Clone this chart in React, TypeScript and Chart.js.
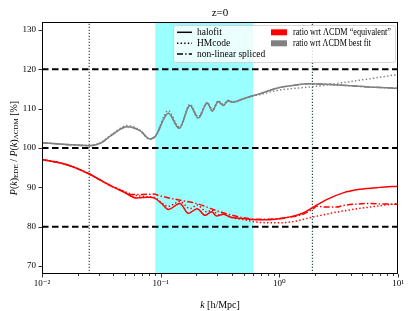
import React, { useEffect, useRef } from 'react';
import { Chart, registerables } from 'chart.js';
Chart.register(...registerables);

const FONT = "'Liberation Serif', 'DejaVu Serif', serif";

const kMin = 0.01;
const kMax = 10;
const yMin = 68;
const yMax = 132;
const yTicks = [70, 80, 90, 100, 110, 120, 130];
const refLevels = [80, 100, 120];
const vLines = [0.025, 1.9];
const bandRange = [0.09, 0.6];
const titleText = 'z=0';
const lineLegend = ['halofit', 'HMcode', 'non-linear spliced'];
const fillLegend = ['ratio wrt \u039BCDM \u201Cequivalent\u201D', 'ratio wrt \u039BCDM best fit'];

// red: ratio wrt LCDM "equivalent"
const redHalofitK = [0.01, 0.016, 0.025, 0.0374, 0.0484, 0.063, 0.081, 0.0895, 0.102, 0.116, 0.1454, 0.1708, 0.2034, 0.2361, 0.269, 0.2964, 0.3369, 0.3835, 0.4966, 0.644, 0.8, 1.012, 1.31, 1.59, 1.93, 2.5, 3.45, 4.78, 7.04, 10];
const redHalofitV = [97.1, 95.8, 93.4, 90.5, 88.9, 87.3, 87.5, 87.2, 85.9, 84.4, 85.9, 83.4, 84.6, 82.9, 83.8, 82.7, 83.2, 82.5, 82.1, 81.8, 81.8, 82.1, 82.7, 83.5, 85.0, 86.9, 88.6, 89.5, 90.0, 90.3];

const redHMcodeK = [0.01, 0.016, 0.025, 0.0374, 0.0484, 0.055, 0.067, 0.081, 0.0895, 0.0987, 0.116, 0.1454, 0.1765, 0.2034, 0.2441, 0.27, 0.31, 0.34, 0.4, 0.5, 0.69, 1.0, 1.31, 1.93, 3.45, 5.8, 10];
const redHMcodeV = [97.1, 95.8, 93.4, 90.5, 89.1, 88.4, 87.8, 87.6, 87.4, 86.4, 85.2, 86.4, 84.6, 85.5, 83.8, 84.2, 83.0, 83.2, 82.3, 81.8, 81.1, 81.0, 81.3, 82.5, 84.0, 85.0, 85.9];

const redSplicedK = [0.01, 0.016, 0.025, 0.0374, 0.0484, 0.055, 0.07, 0.0867, 0.1, 0.1364, 0.2011, 0.316, 0.4966, 0.644, 0.95, 1.31, 1.59, 1.93, 2.06, 2.5, 3.04, 3.45, 4.19, 5.8, 7.04, 10];
const redSplicedV = [97.1, 95.8, 93.4, 90.5, 89.0, 88.2, 88.2, 88.3, 87.8, 86.9, 85.9, 83.8, 82.3, 81.9, 82.0, 82.6, 83.2, 84.6, 85.2, 85.0, 85.0, 85.4, 85.7, 85.9, 85.8, 85.7];

// gray: ratio wrt LCDM best fit
const grayK = [0.01, 0.016, 0.025, 0.031, 0.04, 0.052, 0.067, 0.081, 0.09, 0.116, 0.1435, 0.1765, 0.2074, 0.247, 0.272, 0.306, 0.337, 0.371, 0.404, 0.5, 0.57, 0.69, 0.95, 1.3, 1.8, 2.5, 4.0, 6.5, 10];
const grayHalofitV = [101.35, 100.9, 100.6, 101.2, 103.6, 105.4, 104.4, 102.3, 102.9, 108.8, 105.0, 110.8, 107.6, 111.4, 109.4, 111.8, 110.8, 112.0, 111.6, 112.5, 113.1, 113.8, 115.2, 115.9, 116.3, 116.2, 115.8, 115.4, 115.2];
const grayHMcodeV = [101.35, 100.9, 100.6, 101.3, 103.8, 105.7, 104.5, 102.2, 103.0, 109.5, 105.3, 111.1, 108.0, 111.5, 109.8, 111.9, 111.1, 112.1, 111.8, 112.5, 113.0, 113.6, 114.6, 115.1, 115.5, 116.0, 116.9, 117.8, 118.7];
const graySplicedV = [101.35, 100.9, 100.6, 101.2, 103.6, 105.4, 104.4, 102.3, 102.9, 108.8, 105.0, 110.8, 107.6, 111.4, 109.4, 111.8, 110.8, 112.0, 111.6, 112.5, 113.1, 113.8, 115.2, 115.9, 116.3, 116.2, 115.8, 115.4, 115.2];

const RED = '#ff0000';
const GRAY = '#808080';
const DOT = [1.4, 2.2];
const DASHDOT = [6, 2.2, 1.4, 2.2];

const pts = (k: number[], v: number[]) => k.map((x, i) => ({ x, y: v[i] }));

const SUP: Record<string, string> = { '-': '\u207B', '0': '\u2070', '1': '\u00B9', '2': '\u00B2', '3': '\u00B3' };
const supStr = (n: number) => String(n).split('').map((c) => SUP[c] || c).join('');

const decorPlugin = {
  id: 'decor',
  beforeDatasetsDraw(chart: any) {
    const { ctx, chartArea: ca, scales } = chart;
    const xs = scales.x;
    const x0 = xs.getPixelForValue(bandRange[0]);
    const x1 = xs.getPixelForValue(bandRange[1]);
    ctx.save();
    ctx.fillStyle = 'rgba(0,255,255,0.4)';
    ctx.fillRect(x0, ca.top, x1 - x0, ca.bottom - ca.top);
    ctx.restore();
  },
  afterDraw(chart: any) {
    const { ctx, chartArea: ca, scales } = chart;
    const xs = scales.x;
    const ys = scales.y;
    ctx.save();
    // frame
    ctx.strokeStyle = '#000';
    ctx.lineWidth = 1;
    ctx.setLineDash([]);
    ctx.strokeRect(Math.round(ca.left) + 0.5, Math.round(ca.top) + 0.5, Math.round(ca.right - ca.left) - 1, Math.round(ca.bottom - ca.top) - 1);
    // x ticks
    ctx.lineWidth = 0.8;
    xs.ticks.forEach((t: any) => {
      const v = t.value;
      const lg = Math.log10(v);
      const major = Math.abs(lg - Math.round(lg)) < 1e-6;
      const px = Math.round(xs.getPixelForValue(v)) + 0.5;
      ctx.beginPath();
      ctx.moveTo(px, ca.bottom);
      ctx.lineTo(px, ca.bottom + (major ? 3.5 : 2));
      ctx.stroke();
    });
    // y ticks
    yTicks.forEach((v) => {
      const py = Math.round(ys.getPixelForValue(v)) + 0.5;
      ctx.beginPath();
      ctx.moveTo(ca.left, py);
      ctx.lineTo(ca.left - 3.5, py);
      ctx.stroke();
    });
    ctx.fillStyle = '#000';
    // title
    ctx.font = `11px ${FONT}`;
    ctx.textAlign = 'center';
    ctx.textBaseline = 'middle';
    ctx.fillText(titleText, (ca.left + ca.right) / 2, 13);
    // x label
    const xlY = 305;
    ctx.font = `italic 10px ${FONT}`;
    const wk = ctx.measureText('k').width;
    ctx.font = `10px ${FONT}`;
    const rest = ' [h/Mpc]';
    const wr = ctx.measureText(rest).width;
    const sx = (ca.left + ca.right) / 2 - (wk + wr) / 2;
    ctx.textAlign = 'left';
    ctx.font = `italic 10px ${FONT}`;
    ctx.fillText('k', sx, xlY);
    ctx.font = `10px ${FONT}`;
    ctx.fillText(rest, sx + wk, xlY);
    // y label
    const pieces: { t: string; it?: boolean; sub?: boolean }[] = [
      { t: 'P', it: true }, { t: '(' }, { t: 'k', it: true }, { t: ')' }, { t: 'EDE', sub: true },
      { t: ' / ' }, { t: 'P', it: true }, { t: '(' }, { t: 'k', it: true }, { t: ')' }, { t: '\u039BCDM', sub: true },
      { t: ' [%]' },
    ];
    const fontOf = (p: any) => (p.sub ? `7px ${FONT}` : p.it ? `italic 10px ${FONT}` : `10px ${FONT}`);
    let total = 0;
    pieces.forEach((p) => { ctx.font = fontOf(p); total += ctx.measureText(p.t).width; });
    ctx.translate(14, (ca.top + ca.bottom) / 2);
    ctx.rotate(-Math.PI / 2);
    let cx = -total / 2;
    pieces.forEach((p) => {
      ctx.font = fontOf(p);
      ctx.fillText(p.t, cx, p.sub ? 2.5 : 0);
      cx += ctx.measureText(p.t).width;
    });
    ctx.setTransform(1, 0, 0, 1, 0, 0);
    // legend
    const lw = 222, lh = 37;
    const lx = ca.right - 3 - lw;
    const ly = ca.top + 3;
    ctx.beginPath();
    ctx.roundRect(lx + 0.5, ly + 0.5, lw, lh, 2.5);
    ctx.fillStyle = 'rgba(255,255,255,0.8)';
    ctx.fill();
    ctx.strokeStyle = 'rgba(204,204,204,0.8)';
    ctx.lineWidth = 1;
    ctx.stroke();
    const rows = [ly + 7.3, ly + 18.3, ly + 29];
    const dashes = [[], DOT, DASHDOT];
    ctx.font = `9.5px ${FONT}`;
    ctx.textBaseline = 'middle';
    ctx.textAlign = 'left';
    lineLegend.forEach((txt, i) => {
      ctx.strokeStyle = '#000';
      ctx.lineWidth = 1.5;
      ctx.setLineDash(dashes[i]);
      ctx.beginPath();
      ctx.moveTo(lx + 4, rows[i]);
      ctx.lineTo(lx + 19, rows[i]);
      ctx.stroke();
      ctx.setLineDash([]);
      ctx.fillStyle = '#000';
      ctx.fillText(txt, lx + 24, rows[i]);
    });
    const fills = [RED, GRAY];
    const maxW = [98, 78];
    fillLegend.forEach((txt, i) => {
      ctx.fillStyle = fills[i];
      ctx.fillRect(lx + 98, rows[i] - 3, 16, 6);
      ctx.fillStyle = '#000';
      ctx.fillText(txt, lx + 120, rows[i], maxW[i]);
    });
    ctx.restore();
  },
};

export default function App() {
  const ref = useRef<HTMLCanvasElement | null>(null);
  useEffect(() => {
    document.body.style.margin = '0';
    if (!ref.current) return;
    const curve = (k: number[], v: number[], color: string, dash: number[]) => ({
      data: pts(k, v),
      borderColor: color,
      borderWidth: 1.5,
      borderDash: dash,
      pointRadius: 0,
      fill: false,
      cubicInterpolationMode: 'monotone',
      order: 0,
    });
    const refs: any[] = [];
    refLevels.forEach((lv) => refs.push({
      data: [{ x: kMin, y: lv }, { x: kMax, y: lv }],
      borderColor: '#000', borderWidth: 1.8, borderDash: [6.5, 3.5], pointRadius: 0, order: 2,
    }));
    vLines.forEach((kv) => refs.push({
      data: [{ x: kv, y: yMin }, { x: kv, y: yMax }],
      borderColor: '#2f4f4f', borderWidth: 1.2, borderDash: [1.2, 1.8], pointRadius: 0, order: 1,
    }));
    const chart = new Chart(ref.current, {
      type: 'line',
      data: {
        datasets: [
          curve(redHalofitK, redHalofitV, RED, []),
          curve(redHMcodeK, redHMcodeV, RED, DOT),
          curve(redSplicedK, redSplicedV, RED, DASHDOT),
          curve(grayK, grayHalofitV, GRAY, []),
          curve(grayK, grayHMcodeV, GRAY, DOT),
          curve(grayK, graySplicedV, GRAY, DASHDOT),
          ...refs,
        ] as any,
      },
      options: {
        animation: false,
        responsive: false,
        devicePixelRatio: 1,
        layout: { padding: { left: 0, right: 16, top: 22, bottom: 0 } },
        plugins: { legend: { display: false }, tooltip: { enabled: false }, title: { display: false } },
        scales: {
          x: {
            type: 'logarithmic',
            min: kMin,
            max: kMax,
            grid: { display: false, drawTicks: false },
            border: { display: false },
            afterBuildTicks: (scale: any) => {
              const t: any[] = [];
              for (let d = -2; d < 1; d++) for (let n = 1; n < 10; n++) t.push({ value: n * Math.pow(10, d) });
              t.push({ value: 10 });
              scale.ticks = t;
            },
            afterFit: (scale: any) => { scale.height = 37; },
            ticks: {
              autoSkip: false,
              maxRotation: 0,
              padding: 4,
              color: '#000',
              font: { family: FONT, size: 9 },
              callback: (v: any) => {
                const lg = Math.log10(Number(v));
                return Math.abs(lg - Math.round(lg)) < 1e-6 ? '10' + supStr(Math.round(lg)) : '';
              },
            },
          },
          y: {
            type: 'linear',
            min: yMin,
            max: yMax,
            grid: { display: false, drawTicks: false },
            border: { display: false },
            afterBuildTicks: (scale: any) => { scale.ticks = yTicks.map((v) => ({ value: v })); },
            afterFit: (scale: any) => { scale.width = 42; },
            ticks: { padding: 6, color: '#000', font: { family: FONT, size: 9 } },
          },
        },
      } as any,
      plugins: [decorPlugin],
    });
    return () => chart.destroy();
  }, []);
  return (
    <div style={{ width: 414, height: 311 }}>
      <canvas ref={ref} width={414} height={311} style={{ display: 'block' }} />
    </div>
  );
}
